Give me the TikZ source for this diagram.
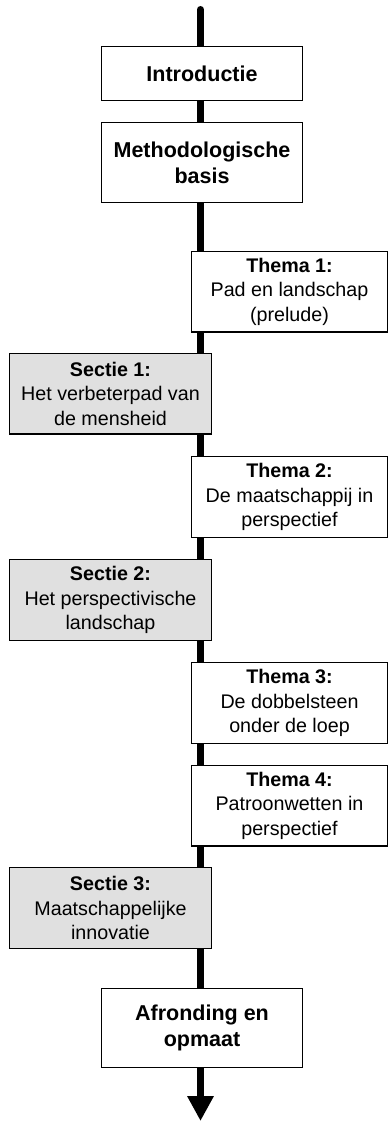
\documentclass[tikz,border=0pt]{standalone}
\usepackage{fontspec}
\setmainfont{Liberation Sans}
\usetikzlibrary{arrows.meta,backgrounds}
\definecolor{secgray}{RGB}{224,224,224}
\newcommand\mytitlefont{\fontsize{21.5}{26}\selectfont\bfseries}
\newcommand\mybodyfont{\fontsize{19.7}{24.5}\selectfont}
\tikzset{
  box/.style={draw, line width=1.3pt, fill=white, inner sep=0pt, align=center},
  titlebox/.style={box, minimum width=200.7pt, font=\mytitlefont},
  themabox/.style={box, minimum width=195.7pt, minimum height=80.7pt, font=\mybodyfont},
  sectiebox/.style={box, fill=secgray, minimum width=201.7pt, minimum height=80.7pt, font=\mybodyfont},
  spine/.style={line width=7pt}
}
\begin{document}
\begin{tikzpicture}[x=1pt,y=-1pt]
\useasboundingbox (0,0) rectangle (389,1121);
\node[titlebox, minimum height=53.7pt] (intro) at (202,73.5) {Introductie};
\node[titlebox, minimum height=79.7pt] (meth) at (202,162.5) {Methodologische\\basis};
\node[themabox] (t1) at (289.5,291.5) {\textbf{Thema 1:}\\Pad en landschap\\(prelude)};
\node[sectiebox] (s1) at (110.5,393.5) {\textbf{Sectie 1:}\\Het verbeterpad van\\de mensheid};
\node[themabox] (t2) at (289.5,497) {\textbf{Thema 2:}\\De maatschappij in\\perspectief};
\node[sectiebox] (s2) at (110.5,600) {\textbf{Sectie 2:}\\Het perspectivische\\landschap};
\node[themabox] (t3) at (289.5,703) {\textbf{Thema 3:}\\De dobbelsteen\\onder de loep};
\node[themabox] (t4) at (289.5,805.5) {\textbf{Thema 4:}\\Patroonwetten in\\perspectief};
\node[sectiebox] (s3) at (110.5,908) {\textbf{Sectie 3:}\\Maatschappelijke\\innovatie};
\node[titlebox, minimum height=78.7pt] (afr) at (202,1028) {Afronding en\\opmaat};
\coordinate (top) at (200.5,9.5);
\coordinate (bot) at (200.5,1121);
\begin{scope}[on background layer]
\draw[spine, line cap=round] (top) -- (top |- intro.north);
\draw[spine] (top |- intro.south) -- (top |- meth.north);
\draw[spine] (top |- meth.south) -- (top |- t1.north);
\draw[spine] (top |- t1.south) -- (top |- s1.north);
\draw[spine] (top |- s1.south) -- (top |- t2.north);
\draw[spine] (top |- t2.south) -- (top |- s2.north);
\draw[spine] (top |- s2.south) -- (top |- t3.north);
\draw[spine] (top |- t3.south) -- (top |- t4.north);
\draw[spine] (top |- t4.south) -- (top |- s3.north);
\draw[spine] (top |- s3.south) -- (top |- afr.north);
\draw[spine, -{Triangle[width=25pt,length=25pt]}] (top |- afr.south) -- (bot);
\end{scope}
\end{tikzpicture}
\end{document}
